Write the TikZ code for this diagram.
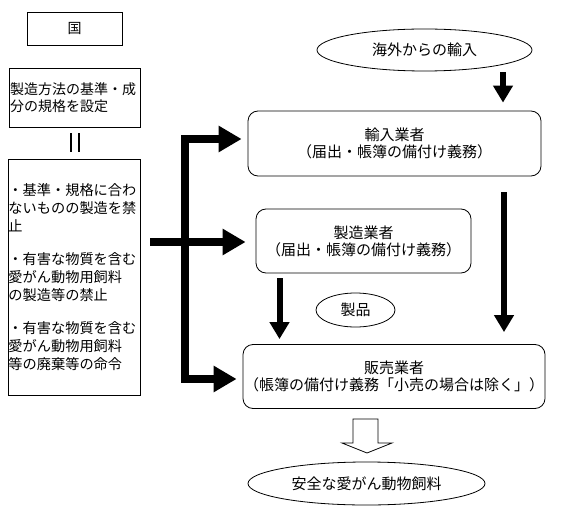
\documentclass[tikz,border=0pt]{standalone}
\usepackage{fontspec}
\setmainfont{Noto Sans CJK JP}
\usetikzlibrary{arrows.meta,shapes.geometric}
\begin{document}
\begin{tikzpicture}[x=1pt,y=-1pt,
  every node/.style={font=\fontsize{14}{17}\selectfont},
  rfont/.style={font=\fontsize{15}{17}\selectfont},
  sqbox/.style={draw,line width=0.8pt,inner sep=0pt,align=center},
  rbox/.style={draw,line width=0.8pt,rounded corners=10pt,inner sep=0pt,align=center,rfont},
  oval/.style={draw,line width=0.8pt,ellipse,inner sep=0pt,rfont},
  bigarrow/.style={line width=8pt,-{Triangle[length=23pt,width=25pt]}},
  smallarrow/.style={line width=6pt,-{Triangle[length=17pt,width=19pt]}},
  hollow/.style={draw,line width=0.8pt,fill=white}]
\useasboundingbox (0,0) rectangle (561,521);
% left column
\node[sqbox,minimum width=95pt,minimum height=33pt] (kuni) at (74.5,28.5) {国};
\node[sqbox,minimum width=131pt,minimum height=59pt,align=left,text width=129pt] (rule) at (74.5,97.5)
  {製造方法の基準・成\\分の規格を設定};
\node[sqbox,minimum width=132pt,minimum height=236pt,align=left,text width=131pt,
  font=\fontsize{14.2}{18}\selectfont] (ban) at (74,277)
  {・基準・規格に合わ\\ないものの製造を禁\\止\\[15pt]・有害な物質を含む\\愛がん動物用飼料\\の製造等の禁止\\[15pt]・有害な物質を含む\\愛がん動物用飼料\\等の廃棄等の命令};
\draw[line width=2pt,shorten <=6pt,shorten >=7pt] ([xshift=-4pt]rule.south) -- ([xshift=-4pt]rule.south |- ban.north);
\draw[line width=2pt,shorten <=6pt,shorten >=7pt] ([xshift=4pt]rule.south) -- ([xshift=4pt]rule.south |- ban.north);
% right column
\node[oval,minimum width=215pt,minimum height=42pt] (abroad) at (424.5,50) {海外からの輸入};
\node[rbox,minimum width=293pt,minimum height=65pt] (imp) at (394.5,143.5) {輸入業者\\（届出・帳簿の備付け義務）};
\node[rbox,minimum width=215pt,minimum height=64pt] (mfr) at (363.5,241) {製造業者\\（届出・帳簿の備付け義務）};
\node[oval,minimum width=79pt,minimum height=34pt] (prod) at (355.5,310) {製品};
\node[rbox,minimum width=302pt,minimum height=64pt] (sale) at (394,376.5) {販売業者\\（帳簿の備付け義務「小売の場合は除く」）};
\node[oval,minimum width=237pt,minimum height=43pt] (safe) at (366.5,483.5) {安全な愛がん動物飼料};
% coordinates
\coordinate (bartop) at (184.5,139);
\coordinate (barbot) at (184.5,379);
\coordinate (mid) at (150,242);
\coordinate (xr) at (503,0);
\coordinate (xl) at (504,0);
\coordinate (xm) at (279.5,0);
% thick arrows from the left
\draw[bigarrow,shorten >=6pt] (barbot) -- (bartop) -- (bartop -| imp.west);
\draw[bigarrow,shorten >=6pt] (bartop) -- (barbot) -- (barbot -| sale.west);
\draw[bigarrow,shorten >=10pt] (mid) -- (mid -| mfr.west);
% thin arrows
\draw[smallarrow,shorten <=1pt,shorten >=8pt] (abroad.south -| xr) -- (imp.north -| xr);
\draw[smallarrow,shorten <=16pt,shorten >=12pt] (imp.south -| xl) -- (sale.north -| xl);
\draw[smallarrow,shorten <=5pt,shorten >=5pt] (mfr.south -| xm) -- (sale.north -| xm);
% hollow arrow
\draw[hollow] (353,419) -- (378,419) -- (378,443) -- (392,443) -- (367,453) -- (342,443) -- (353,443) -- cycle;
\end{tikzpicture}
\end{document}
